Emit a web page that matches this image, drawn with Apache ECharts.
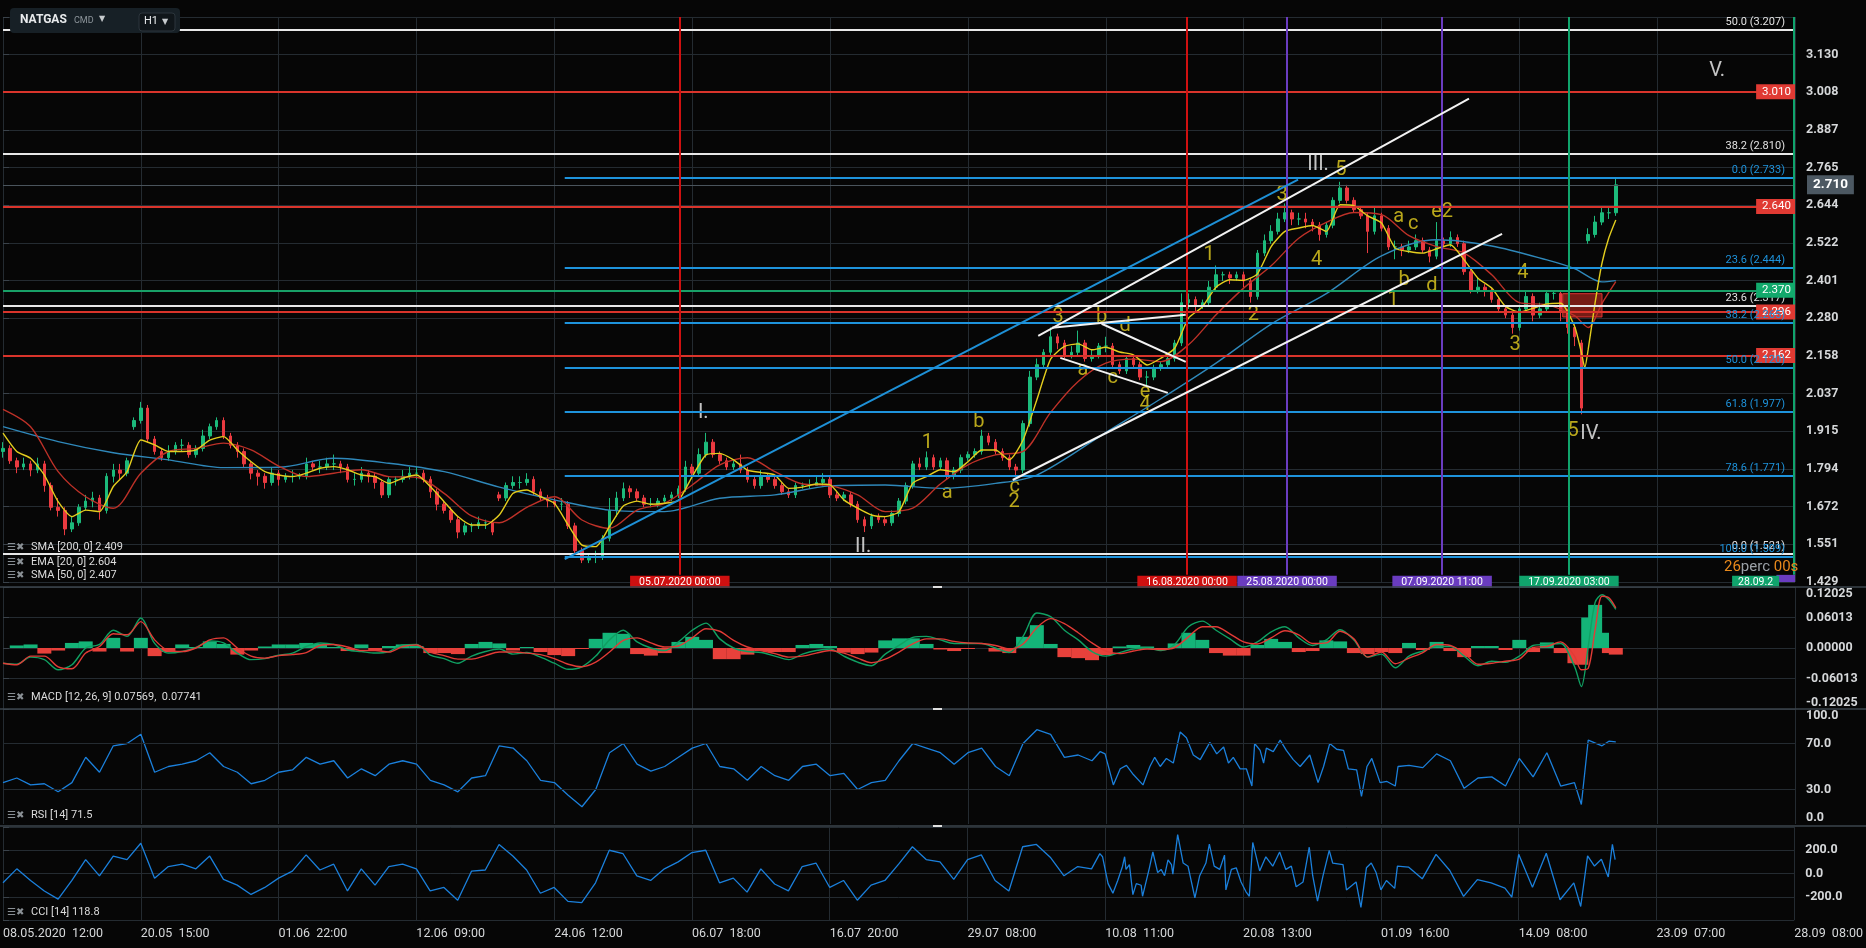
<!DOCTYPE html>
<html><head><meta charset="utf-8">
<script src="https://cdn.jsdelivr.net/npm/echarts@6/dist/echarts.min.js"></script>
<style>html,body{margin:0;padding:0;background:#060606;overflow:hidden}#c{width:1866px;height:948px}</style>
</head><body><div id="c"></div>
<script>
// ---------- tick labels ----------
const xLabels = ['08.05.2020  12:00','20.05  15:00','01.06  22:00','12.06  09:00','24.06  12:00','06.07  18:00','16.07  20:00','29.07  08:00','10.08  11:00','20.08  13:00','01.09  16:00','14.09  08:00','23.09  07:00','28.09  08:00'];
const yLabels = ['1.429','1.551','1.672','1.794','1.915','2.037','2.158','2.280','2.401','2.522','2.644','2.765','2.887','3.008','3.130'];
const macdLabels = ['-0.12025','-0.06013','0.00000','0.06013','0.12025'];
const rsiLabels = [0,30,70,100];
const cciLabels = [-200,0,200];
const Y_MIN = 1.429, Y_STEP = 0.1215;
const BARS_PER_LABEL = 20, X_MAX = 260;

// ---------- price candles [open, close, low, high] ----------
const candles = [
[1.85,1.86,1.83,1.88],[1.86,1.82,1.81,1.87],[1.82,1.80,1.78,1.83],[1.80,1.81,1.79,1.83],[1.81,1.79,1.77,1.82],
[1.79,1.81,1.78,1.83],[1.81,1.74,1.72,1.82],[1.74,1.67,1.66,1.75],[1.67,1.66,1.64,1.70],[1.66,1.60,1.58,1.67],
[1.60,1.62,1.59,1.64],[1.62,1.67,1.61,1.68],[1.67,1.69,1.66,1.71],[1.69,1.70,1.67,1.72],[1.70,1.66,1.63,1.71],
[1.66,1.77,1.65,1.78],[1.77,1.79,1.75,1.81],[1.79,1.78,1.76,1.81],[1.78,1.82,1.77,1.83],[1.93,1.95,1.92,1.96],
[1.95,1.99,1.94,2.01],[1.99,1.89,1.88,2.00],[1.89,1.85,1.84,1.90],[1.85,1.83,1.82,1.86],[1.83,1.85,1.82,1.87],
[1.85,1.87,1.84,1.88],[1.87,1.87,1.85,1.89],[1.87,1.84,1.83,1.88],[1.84,1.86,1.83,1.87],[1.86,1.90,1.85,1.92],
[1.90,1.93,1.89,1.94],[1.93,1.95,1.92,1.96],[1.95,1.90,1.89,1.96],[1.90,1.87,1.86,1.91],[1.87,1.85,1.83,1.88],
[1.85,1.81,1.80,1.86],[1.81,1.78,1.76,1.82],[1.78,1.77,1.74,1.79],[1.77,1.75,1.73,1.78],[1.75,1.78,1.74,1.80],
[1.78,1.76,1.74,1.79],[1.76,1.77,1.75,1.78],[1.77,1.77,1.75,1.79],[1.77,1.77,1.76,1.78],[1.77,1.81,1.76,1.83],
[1.81,1.80,1.79,1.82],[1.80,1.80,1.78,1.82],[1.80,1.81,1.79,1.83],[1.81,1.81,1.79,1.84],[1.81,1.80,1.78,1.82],
[1.80,1.76,1.75,1.81],[1.76,1.76,1.74,1.78],[1.76,1.78,1.75,1.80],[1.78,1.77,1.75,1.79],[1.77,1.75,1.73,1.78],
[1.75,1.71,1.70,1.76],[1.71,1.76,1.70,1.77],[1.76,1.76,1.74,1.77],[1.76,1.77,1.75,1.79],[1.77,1.78,1.76,1.80],
[1.78,1.78,1.76,1.80],[1.78,1.76,1.75,1.79],[1.76,1.72,1.70,1.77],[1.72,1.68,1.66,1.73],[1.68,1.66,1.65,1.69],
[1.66,1.63,1.62,1.67],[1.63,1.59,1.57,1.64],[1.59,1.61,1.58,1.62],[1.61,1.61,1.59,1.62],[1.61,1.62,1.60,1.64],
[1.62,1.62,1.60,1.63],[1.62,1.59,1.58,1.63],[1.71,1.70,1.69,1.72],[1.70,1.74,1.69,1.75],[1.74,1.75,1.73,1.77],
[1.75,1.75,1.73,1.77],[1.75,1.76,1.74,1.78],[1.76,1.72,1.71,1.77],[1.72,1.70,1.69,1.73],[1.70,1.69,1.67,1.71],
[1.69,1.68,1.67,1.70],[1.68,1.68,1.66,1.70],[1.68,1.61,1.60,1.69],[1.61,1.53,1.52,1.62],[1.53,1.50,1.49,1.54],
[1.50,1.51,1.49,1.52],[1.51,1.51,1.49,1.53],[1.51,1.57,1.50,1.58],[1.57,1.66,1.56,1.70],[1.66,1.70,1.64,1.72],
[1.70,1.73,1.69,1.75],[1.73,1.72,1.70,1.74],[1.72,1.70,1.69,1.73],[1.70,1.68,1.67,1.71],[1.68,1.68,1.67,1.70],
[1.68,1.69,1.67,1.70],[1.69,1.70,1.68,1.71],[1.70,1.71,1.69,1.72],[1.71,1.73,1.70,1.74],[1.73,1.80,1.72,1.82],
[1.80,1.78,1.77,1.81],[1.78,1.84,1.77,1.86],[1.84,1.88,1.83,1.91],[1.88,1.84,1.83,1.89],[1.84,1.82,1.81,1.85],
[1.82,1.80,1.79,1.83],[1.80,1.81,1.79,1.82],[1.81,1.79,1.78,1.84],[1.79,1.76,1.75,1.80],[1.76,1.74,1.73,1.77],
[1.74,1.77,1.73,1.79],[1.77,1.76,1.75,1.78],[1.76,1.74,1.73,1.77],[1.74,1.72,1.71,1.75],[1.72,1.71,1.70,1.73],
[1.71,1.74,1.70,1.75],[1.74,1.74,1.73,1.75],[1.74,1.74,1.73,1.76],[1.74,1.75,1.74,1.77],[1.75,1.76,1.74,1.78],
[1.76,1.71,1.70,1.77],[1.71,1.70,1.69,1.72],[1.70,1.71,1.69,1.72],[1.71,1.68,1.67,1.72],[1.68,1.63,1.62,1.69],
[1.63,1.61,1.59,1.64],[1.61,1.64,1.60,1.65],[1.64,1.63,1.62,1.65],[1.63,1.62,1.61,1.64],[1.62,1.65,1.61,1.66],
[1.65,1.69,1.64,1.70],[1.69,1.74,1.68,1.75],[1.74,1.81,1.73,1.82],[1.81,1.80,1.79,1.83],[1.80,1.83,1.79,1.85],
[1.83,1.80,1.79,1.84],[1.80,1.82,1.79,1.83],[1.82,1.77,1.76,1.83],[1.77,1.79,1.76,1.80],[1.79,1.83,1.78,1.84],
[1.83,1.84,1.82,1.85],[1.84,1.85,1.83,1.86],[1.85,1.90,1.84,1.92],[1.90,1.88,1.87,1.91],[1.88,1.85,1.84,1.89],
[1.85,1.83,1.82,1.86],[1.83,1.80,1.79,1.84],[1.80,1.79,1.77,1.81],[1.79,1.94,1.78,1.95],[1.94,2.09,1.93,2.11],
[2.09,2.13,2.08,2.15],[2.13,2.17,2.12,2.18],[2.17,2.22,2.16,2.25],[2.22,2.20,2.18,2.23],[2.20,2.16,2.15,2.21],
[2.16,2.17,2.15,2.19],[2.17,2.20,2.16,2.24],[2.20,2.15,2.14,2.21],[2.15,2.16,2.14,2.18],[2.16,2.19,2.15,2.20],
[2.19,2.19,2.17,2.22],[2.19,2.13,2.12,2.20],[2.13,2.11,2.10,2.14],[2.11,2.15,2.10,2.16],[2.15,2.13,2.12,2.16],
[2.13,2.09,2.08,2.14],[2.09,2.09,2.06,2.11],[2.09,2.12,2.08,2.13],[2.12,2.13,2.11,2.14],[2.13,2.15,2.12,2.16],
[2.15,2.20,2.14,2.21],[2.20,2.33,2.19,2.36],[2.33,2.34,2.31,2.36],[2.34,2.32,2.30,2.35],[2.32,2.33,2.31,2.34],
[2.33,2.38,2.32,2.40],[2.38,2.42,2.37,2.45],[2.42,2.42,2.40,2.43],[2.42,2.41,2.39,2.43],[2.41,2.42,2.40,2.43],
[2.42,2.40,2.38,2.43],[2.40,2.35,2.33,2.41],[2.35,2.49,2.34,2.50],[2.49,2.53,2.48,2.55],[2.53,2.56,2.52,2.58],
[2.56,2.60,2.55,2.62],[2.60,2.62,2.59,2.65],[2.62,2.60,2.58,2.63],[2.60,2.60,2.58,2.62],[2.60,2.59,2.57,2.62],
[2.59,2.58,2.56,2.60],[2.58,2.55,2.53,2.59],[2.55,2.58,2.54,2.59],[2.58,2.66,2.57,2.67],[2.66,2.70,2.65,2.72],
[2.70,2.66,2.65,2.71],[2.66,2.63,2.62,2.67],[2.63,2.61,2.60,2.64],[2.61,2.56,2.49,2.62],[2.56,2.61,2.55,2.64],
[2.61,2.57,2.56,2.62],[2.57,2.51,2.50,2.58],[2.51,2.51,2.47,2.53],[2.51,2.50,2.48,2.52],[2.50,2.51,2.49,2.53],
[2.51,2.53,2.50,2.55],[2.53,2.50,2.49,2.54],[2.50,2.48,2.46,2.51],[2.48,2.53,2.47,2.59],[2.53,2.52,2.51,2.54],
[2.52,2.54,2.51,2.56],[2.54,2.52,2.51,2.55],[2.52,2.43,2.42,2.53],[2.43,2.37,2.36,2.44],[2.37,2.38,2.36,2.41],
[2.38,2.37,2.35,2.39],[2.37,2.34,2.33,2.38],[2.34,2.31,2.30,2.35],[2.31,2.29,2.28,2.32],[2.29,2.25,2.23,2.30],
[2.25,2.31,2.24,2.32],[2.31,2.35,2.30,2.37],[2.35,2.29,2.27,2.36],[2.29,2.31,2.28,2.33],[2.31,2.36,2.30,2.37],
[2.36,2.36,2.34,2.37],[2.36,2.30,2.27,2.37],[2.30,2.25,2.23,2.31],[2.25,2.22,2.19,2.26],[2.20,1.99,1.97,2.21],
[2.53,2.55,2.52,2.57],[2.55,2.59,2.54,2.61],[2.59,2.62,2.58,2.64],[2.62,2.62,2.60,2.64],[2.62,2.71,2.61,2.73]
];

// ---------- moving averages [barIndex, value] ----------
const ema20 = [[0,1.909],[2,1.850],[4,1.828],[6,1.774],[8,1.688],[10,1.640],[12,1.661],[14,1.656],[16,1.737],[18,1.785],[20,1.887],[22,1.871],[24,1.850],[26,1.850],[28,1.855],[30,1.887],[32,1.898],[34,1.855],[36,1.817],[38,1.785],[40,1.774],[42,1.769],[44,1.780],[46,1.796],[48,1.801],[50,1.791],[52,1.774],[54,1.769],[56,1.747],[58,1.764],[60,1.774],[62,1.737],[64,1.688],[66,1.640],[68,1.613],[70,1.613],[72,1.645],[74,1.715],[76,1.726],[78,1.704],[80,1.683],[82,1.613],[84,1.548],[86,1.543],[88,1.608],[90,1.674],[92,1.690],[94,1.680],[96,1.683],[98,1.692],[100,1.769],[102,1.839],[104,1.844],[106,1.823],[108,1.790],[110,1.782],[112,1.774],[114,1.731],[116,1.735],[118,1.745],[120,1.742],[122,1.694],[124,1.667],[126,1.645],[128,1.640],[130,1.656],[132,1.748],[134,1.769],[136,1.791],[138,1.785],[140,1.817],[142,1.855],[144,1.855],[146,1.823],[148,1.887],[150,2.017],[152,2.148],[154,2.189],[156,2.197],[158,2.178],[160,2.186],[162,2.171],[164,2.162],[166,2.129],[168,2.151],[170,2.183],[172,2.280],[174,2.316],[176,2.380],[178,2.404],[180,2.402],[182,2.423],[184,2.511],[186,2.560],[188,2.571],[190,2.579],[192,2.560],[194,2.646],[196,2.643],[198,2.610],[200,2.587],[202,2.506],[204,2.495],[206,2.490],[208,2.504],[210,2.517],[212,2.468],[214,2.409],[216,2.377],[218,2.318],[220,2.300],[222,2.312],[224,2.326],[226,2.328],[228,2.255],[229,2.170],[229.5,2.120],[230,2.180],[231,2.330],[232,2.458],[233,2.540],[234,2.597]];
const sma50 = [[0,1.986],[4,1.930],[8,1.785],[12,1.704],[16,1.667],[20,1.780],[24,1.850],[28,1.860],[32,1.877],[36,1.855],[40,1.803],[44,1.769],[48,1.780],[52,1.791],[56,1.769],[60,1.767],[64,1.715],[68,1.642],[72,1.620],[76,1.670],[80,1.704],[84,1.629],[88,1.602],[92,1.661],[96,1.683],[100,1.742],[104,1.807],[108,1.830],[112,1.785],[116,1.745],[120,1.740],[124,1.710],[128,1.656],[132,1.667],[136,1.745],[140,1.807],[144,1.839],[148,1.850],[152,1.976],[156,2.076],[160,2.135],[164,2.148],[168,2.140],[172,2.194],[176,2.291],[180,2.377],[184,2.449],[188,2.538],[192,2.589],[196,2.621],[200,2.614],[204,2.546],[208,2.511],[212,2.490],[216,2.420],[220,2.330],[224,2.323],[228,2.288],[230,2.250],[232,2.328],[234,2.398]];
const sma200 = [[0,1.930],[8,1.882],[16,1.846],[24,1.823],[32,1.798],[40,1.799],[48,1.828],[56,1.812],[64,1.785],[72,1.735],[80,1.694],[88,1.661],[96,1.656],[104,1.699],[112,1.710],[120,1.739],[128,1.742],[136,1.731],[144,1.747],[150,1.774],[160,1.911],[168,2.020],[176,2.135],[184,2.261],[192,2.359],[200,2.481],[208,2.533],[216,2.513],[224,2.468],[228,2.440],[232,2.397],[234,2.401]];

// ---------- MACD [barIndex, value] ----------
const macdLine = [[0,-0.030],[2,-0.032],[4,-0.018],[6,-0.023],[8,-0.043],[10,-0.033],[12,0.000],[14,0.007],[16,0.035],[18,0.023],[20,0.059],[22,0.009],[24,-0.010],[26,-0.007],[28,0.001],[30,0.014],[32,0.010],[34,-0.010],[36,-0.023],[38,-0.021],[40,-0.014],[42,-0.010],[44,0.003],[46,0.010],[48,0.007],[50,-0.004],[52,-0.007],[54,-0.010],[56,-0.007],[58,0.006],[60,0.007],[62,-0.014],[64,-0.021],[66,-0.030],[68,-0.016],[70,-0.007],[72,-0.002],[74,-0.012],[76,-0.009],[78,-0.018],[80,-0.030],[82,-0.042],[84,-0.037],[86,-0.016],[88,0.016],[90,0.035],[92,0.012],[94,0.000],[96,-0.005],[98,0.012],[100,0.035],[102,0.049],[104,0.018],[106,0.000],[108,-0.007],[110,-0.009],[112,-0.016],[114,-0.023],[116,-0.012],[118,-0.005],[120,-0.002],[122,-0.016],[124,-0.028],[126,-0.035],[128,-0.012],[130,0.005],[132,0.021],[134,0.023],[136,0.016],[138,0.009],[140,0.009],[142,0.009],[144,0.000],[146,-0.009],[148,0.023],[150,0.069],[152,0.062],[154,0.035],[156,0.016],[158,-0.007],[160,-0.016],[162,-0.009],[164,-0.002],[166,0.000],[168,-0.005],[170,0.007],[172,0.042],[174,0.053],[176,0.035],[178,0.018],[180,0.002],[182,0.012],[184,0.032],[186,0.042],[188,0.020],[190,0.005],[192,0.016],[194,0.036],[196,0.016],[198,-0.018],[200,-0.012],[202,-0.039],[204,-0.016],[206,-0.006],[208,0.003],[210,0.003],[212,-0.016],[214,-0.035],[216,-0.026],[218,-0.028],[220,-0.016],[222,0.005],[224,0.007],[226,0.009],[228,-0.036],[229,-0.076],[230,0.003],[231,0.090],[232,0.105],[233,0.095],[234,0.076]];
const signalLine = [[0,-0.030],[2,-0.033],[4,-0.016],[6,-0.016],[8,-0.037],[10,-0.041],[12,-0.010],[14,0.003],[16,0.028],[18,0.026],[20,0.052],[22,0.016],[24,-0.005],[26,-0.007],[28,0.000],[30,0.016],[32,0.020],[34,0.000],[36,-0.016],[38,-0.020],[40,-0.015],[42,-0.013],[44,-0.009],[46,0.005],[48,0.007],[50,0.002],[52,-0.005],[54,-0.005],[56,-0.008],[58,0.003],[60,0.006],[62,-0.008],[64,-0.015],[66,-0.022],[68,-0.022],[70,-0.015],[72,-0.008],[74,-0.008],[76,-0.010],[78,-0.013],[80,-0.021],[82,-0.032],[84,-0.037],[86,-0.028],[88,-0.008],[90,0.015],[92,0.020],[94,0.010],[96,0.002],[98,0.004],[100,0.020],[102,0.038],[104,0.033],[106,0.015],[108,0.002],[110,-0.005],[112,-0.011],[114,-0.018],[116,-0.016],[118,-0.010],[120,-0.005],[122,-0.010],[124,-0.020],[126,-0.029],[128,-0.022],[130,-0.008],[132,0.008],[134,0.018],[136,0.018],[138,0.013],[140,0.010],[142,0.009],[144,0.005],[146,-0.002],[148,0.008],[150,0.040],[152,0.058],[154,0.048],[156,0.030],[158,0.010],[160,-0.006],[162,-0.011],[164,-0.006],[166,-0.002],[168,-0.003],[170,0.001],[172,0.022],[174,0.042],[176,0.042],[178,0.028],[180,0.012],[182,0.008],[184,0.020],[186,0.034],[188,0.026],[190,0.009],[192,0.010],[194,0.033],[196,0.018],[198,-0.018],[200,-0.008],[202,-0.031],[204,-0.020],[206,-0.009],[208,0.007],[210,0.005],[212,-0.010],[214,-0.032],[216,-0.030],[218,-0.026],[220,-0.022],[222,0.001],[224,0.003],[226,0.012],[228,-0.016],[229,-0.043],[230,-0.040],[231,0.036],[232,0.102],[233,0.099],[234,0.079]];
const macdHist = [[0,0.000],[2,0.005],[4,0.007],[6,-0.011],[8,-0.005],[10,0.010],[12,0.013],[14,-0.007],[16,0.020],[18,-0.007],[20,0.020],[22,-0.016],[24,-0.008],[26,0.007],[28,0.002],[30,0.013],[32,0.008],[34,-0.013],[36,-0.005],[38,0.003],[40,0.007],[42,0.007],[44,0.010],[46,0.008],[48,0.002],[50,-0.006],[52,0.007],[54,-0.005],[56,0.004],[58,0.007],[60,0.004],[62,-0.010],[64,-0.010],[66,-0.012],[68,0.008],[70,0.012],[72,0.009],[74,-0.005],[76,0.002],[78,-0.008],[80,-0.014],[82,-0.016],[84,-0.002],[86,0.018],[88,0.030],[90,0.028],[92,-0.012],[94,-0.015],[96,-0.010],[98,0.012],[100,0.022],[102,0.016],[104,-0.022],[106,-0.022],[108,-0.013],[110,-0.006],[112,-0.008],[114,-0.008],[116,0.006],[118,0.008],[120,0.004],[122,-0.009],[124,-0.012],[126,-0.009],[128,0.015],[130,0.019],[132,0.019],[134,0.008],[136,-0.003],[138,-0.006],[140,-0.002],[142,0.000],[144,-0.007],[146,-0.010],[148,0.022],[150,0.045],[152,0.008],[154,-0.018],[156,-0.020],[158,-0.024],[160,-0.014],[162,0.003],[164,0.006],[166,0.003],[168,-0.003],[170,0.009],[172,0.030],[174,0.016],[176,-0.010],[178,-0.015],[180,-0.015],[182,0.006],[184,0.018],[186,0.012],[188,-0.008],[190,-0.006],[192,0.015],[194,0.013],[196,-0.010],[198,-0.012],[200,-0.008],[202,-0.010],[204,0.010],[206,-0.004],[208,0.012],[210,-0.006],[212,-0.018],[214,0.004],[216,0.004],[218,-0.004],[220,0.016],[222,-0.008],[224,0.011],[226,-0.010],[228,-0.030],[229,-0.033],[230,0.060],[231,0.085],[232,0.030],[233,-0.010],[234,-0.013]];

// ---------- RSI / CCI [barIndex, value] ----------
const rsi14 = [[0,36],[2,40],[4,34],[6,35],[8,28],[10,36],[12,58],[14,45],[16,68],[18,70],[20,78],[22,45],[24,50],[26,52],[28,55],[30,62],[32,50],[34,45],[36,35],[38,38],[40,45],[42,47],[44,58],[46,52],[48,55],[50,40],[52,48],[54,42],[56,52],[58,55],[60,52],[62,38],[64,34],[66,28],[68,40],[70,42],[72,68],[74,66],[76,55],[78,38],[80,36],[82,25],[84,15],[86,30],[88,62],[90,70],[92,52],[94,46],[96,50],[98,58],[100,66],[102,70],[104,50],[106,48],[108,38],[110,50],[112,42],[114,38],[116,50],[118,52],[120,42],[122,44],[124,30],[126,36],[128,38],[130,55],[132,70],[134,66],[136,62],[138,52],[140,62],[142,66],[144,50],[146,42],[148,70],[150,82],[152,78],[154,58],[156,60],[158,55],
[159.2,63],[159.9,61],[161.1,34],[162.1,48],[163,51],[164,43],[165.4,34],[166.4,50],[167.1,58],[167.9,50],[168.8,57],[169.8,53],[170.8,80],[171.7,75],[172.7,60],[173.7,56],[175.1,71],[176.1,61],[177.1,67],[177.8,53],[178.5,58],[179.5,48],[180.4,48],[181.2,33],[181.6,70],[182.4,64],[182.9,53],[183.3,66],[184.3,63],[185.3,73],[186.2,64],[187.2,56],[188.2,50],[189.6,60],[190.8,36],[191.6,50],[192.5,70],[193.5,65],[194.5,64],[195.2,48],[196.4,47],[197.1,24],[197.9,50],[198.6,57],[199.8,36],[200.8,37],[202,33],[202.4,50],
[204,51],[206,49],[208,61],[210,55],[212,31],[214,40],[216,41],[218,33],[220,57],[222,41],[224,62],[226,33],[228,36],[229,17],[230,73],[232,68],[233,72],[234,71.5]];
const cci14 = [[0,-80],[2,40],[4,-60],[6,-150],[8,-220],[10,-60],[12,120],[14,-20],[16,150],[18,120],[20,260],[22,-40],[24,60],[26,80],[28,40],[30,150],[32,-50],[34,-100],[36,-180],[38,-120],[40,-40],[42,20],[44,160],[46,30],[48,80],[50,-150],[52,40],[54,-100],[56,60],[58,80],[60,40],[62,-150],[64,-120],[66,-230],[68,20],[70,30],[72,250],[74,150],[76,30],[78,-170],[80,-120],[82,-240],[84,-250],[86,-80],[88,200],[90,170],[92,-20],[94,-60],[96,40],[98,100],[100,180],[102,200],[104,-80],[106,-40],[108,-160],[110,40],[112,-90],[114,-150],[116,60],[118,90],[120,-120],[122,-60],[124,-230],[126,-100],[128,-60],[130,80],[132,230],[134,120],[136,100],[138,-50],[140,120],[142,160],[144,-60],[146,-150],[148,230],[150,250],[152,140],[154,-20],[156,60],[158,40],
[159.2,171],[159.6,144],[160.4,-87],[161.1,-169],[161.8,-60],[162.5,63],[162.8,144],[163,35],[163.5,76],[164,-182],[164.5,-87],[165.2,-101],[165.4,-196],[166.4,49],[166.9,185],[167.6,8],[168.1,35],[168.6,-19],[169.1,117],[169.6,76],[169.8,-5],[170.5,335],[171.3,90],[172,63],[173,-210],[173.7,-19],[174.6,90],[175.1,253],[175.8,63],[176.6,35],[177.3,158],[177.5,-141],[178.3,35],[179,49],[179.7,-73],[180.4,-155],[180.9,-196],[181.4,267],[182.4,22],[183.3,144],[184.3,63],[185.3,185],[186.2,35],[187,63],[187.7,-114],[188.7,-73],[189.6,226],[190.1,-19],[190.8,-237],[191.6,-19],[192.5,199],[193,90],[194.5,76],[195,-141],[196.4,-73],[197.1,-291],[197.9,49],[198.6,90],[199.3,8],[200,-141],[200.8,-60],[202,-128],[202.4,63],
[204,55],[206,-46],[208,165],[210,26],[212,-197],[214,-52],[216,-81],[218,-125],[219,-203],[220,165],[222,-119],[224,174],[226,-226],[228,-81],[229,-284],[230,151],[231,64],[232,122],[233,-30],[233.6,250],[234,119]];

// ---------- drawing annotations (price levels, bar indexes) ----------
const whiteFib = [[3.207,'50.0 (3.207)'],[2.810,'38.2 (2.810)'],[2.317,'23.6 (2.317)'],[1.521,'0.0 (1.521)']];
const blueFib = [[2.733,'0.0 (2.733)'],[2.444,'23.6 (2.444)'],[2.265,'38.2 (2.265)'],[2.120,'50.0 (2.120)'],[1.977,'61.8 (1.977)'],[1.771,'78.6 (1.771)'],[1.509,'100.0 (1.509)']];
const blueFibStart = 81.5;
const redLevels = [3.010, 2.640, 2.296, 2.162];
const greenLevels = [2.370];
const lastPrice = 2.710;
const timeLines = [['05.07.2020 00:00',98.2,'#cf1010'],['16.08.2020 00:00',171.8,'#cf1010'],['25.08.2020 00:00',186.3,'#6a3cc0'],['07.09.2020 11:00',208.8,'#6a3cc0'],['17.09.2020 03:00',227.2,'#10a46c'],['28.09.2',259.8,'#10a46c']];
const trendLines = [[81.5,1.503,187.9,2.727,'#1e90d6'],[150.2,2.223,212.7,2.988,'#f2f2f2'],[146.5,1.758,217.5,2.552,'#f2f2f2'],[152.2,2.249,171.6,2.291,'#f2f2f2'],[159.4,2.262,171.6,2.139,'#f2f2f2'],[153.4,2.152,169.0,2.039,'#f2f2f2']];
const W = '#f2f2f2', Yc = '#e6cf20';
const waveLabels = [['I.',101.6,1.974,W],['II.',124.8,1.542,W],['1',134.1,1.878,Yc],['a',137.0,1.716,Yc],['b',141.6,1.945,Yc],['c',146.8,1.736,Yc],['2',146.7,1.687,Yc],['3',153.1,2.284,Yc],['b',159.4,2.284,Yc],['d',162.8,2.255,Yc],['a',156.7,2.113,Yc],['c',161.0,2.087,Yc],['e',165.7,2.042,Yc],['4',165.7,2.000,Yc],['1',175.0,2.485,Yc],['2',181.4,2.291,Yc],['3',185.6,2.678,Yc],['III.',190.8,2.775,W],['5',194.1,2.759,Yc],['4',190.6,2.468,Yc],['a',202.5,2.607,Yc],['c',204.6,2.585,Yc],['e2',208.8,2.623,Yc],['b',203.3,2.404,Yc],['d',207.3,2.384,Yc],['1',201.7,2.339,Yc],['4',220.5,2.426,Yc],['3',219.4,2.194,Yc],['5',227.8,1.916,Yc],['IV.',230.4,1.907,W],['V.',248.7,3.078,W]];
const zoneBox = [226.3, 2.359, 232.0, 2.284];

// ---------- chart ----------
const chart = echarts.init(document.getElementById('c'), null, {renderer:'canvas'});
const GRID = '#242b31', AXT = '#d6d8da', FONT = 'Roboto';
const Y_MAX = Y_MIN + 15 * Y_STEP;

function xAxisFor(k, showLabel){
  return {type:'value', gridIndex:k, min:0, max:X_MAX, interval:BARS_PER_LABEL,
    axisLine:{show:false}, axisTick:{show:false},
    splitLine:{show:true, lineStyle:{color:GRID, width:1}},
    axisLabel:{show:showLabel, align:'left', margin:7, color:AXT, fontSize:12.5, fontFamily:FONT,
      formatter:v => { const k2 = Math.round(v / BARS_PER_LABEL); return (Math.abs(v - k2*BARS_PER_LABEL) < 1e-6 && xLabels[k2]) ? xLabels[k2] : ''; }}};
}
const yLab = {color:AXT, fontSize:12.5, fontWeight:'bold', fontFamily:FONT, margin:11};
const yTick = {show:true, length:6, lineStyle:{color:'#3a424a'}};

const mlData = [];
whiteFib.forEach(([v,t]) => mlData.push({yAxis:v, lineStyle:{color:'#e8e8e8', width:2.2, type:'solid'},
  label:{show:true, position:'insideEndTop', formatter:t, color:'#e2e2e2', fontSize:11, fontFamily:FONT, distance:[10,2]}}));
redLevels.forEach(v => mlData.push({yAxis:v, lineStyle:{color:'#d9342b', width:2.2, type:'solid'},
  label:{show:true, position:'insideEnd', formatter:v.toFixed(3), color:'#fff', backgroundColor:'#e03a33', padding:[2,4,1,6], fontSize:11.5, fontFamily:FONT, distance:0}}));
greenLevels.forEach(v => mlData.push({yAxis:v, lineStyle:{color:'#18a067', width:2.2, type:'solid'},
  label:{show:true, position:'insideEnd', formatter:v.toFixed(3), color:'#fff', backgroundColor:'#12a96c', padding:[2,4,1,6], fontSize:11.5, fontFamily:FONT, distance:0}}));
blueFib.forEach(([v,t]) => mlData.push([
  {coord:[blueFibStart, v], lineStyle:{color:'#1e93dc', width:2.2, type:'solid'},
   label:{show:true, position:'insideEndTop', formatter:t, color:'#1e93dc', fontSize:11, fontFamily:FONT, distance:[10,2]}},
  {coord:[X_MAX, v]}]));
mlData.push({yAxis:lastPrice, lineStyle:{color:'#4a545c', width:1, type:'solid'},
  label:{show:true, position:'end', formatter:lastPrice.toFixed(3), color:'#fff', backgroundColor:'#4c5862', padding:[3,6,2,6], fontSize:13.5, fontWeight:'bold', fontFamily:FONT, distance:12}});
timeLines.forEach(([t,x,c], idx) => mlData.push([
  {coord:[x, 1.452], lineStyle:{color:c, width:2, type:'solid'},
   label:Object.assign({show:true, position:'start', formatter:t, color:'#fff', backgroundColor:c, padding:[1,9,0,9], fontSize:10.5, fontFamily:FONT, distance:1},
     idx === timeLines.length - 1 ? {offset:[-38,0], padding:[1,6,0,6]} : {})},
  {coord:[x, Y_MAX]}]));
trendLines.forEach(([x1,y1,x2,y2,c]) => mlData.push([
  {coord:[x1,y1], lineStyle:{color:c, width:2, type:'solid'}, label:{show:false}},
  {coord:[x2,y2]}]));

const option = {
  backgroundColor:'#060606',
  animation:false,
  grid:[
    {left:3, right:71, top:17, height:565},
    {left:3, right:71, top:587, height:122},
    {left:3, right:71, top:709, height:115},
    {left:3, right:71, top:827, height:93}
  ],
  xAxis:[xAxisFor(0,false), xAxisFor(1,false), xAxisFor(2,false), xAxisFor(3,true)],
  yAxis:[
    {type:'value', gridIndex:0, position:'right', min:Y_MIN, max:Y_MAX, interval:Y_STEP,
     axisLine:{show:false}, axisTick:yTick, splitLine:{lineStyle:{color:GRID}},
     axisLabel:Object.assign({}, yLab, {formatter:v => { const k = Math.round((v - Y_MIN)/Y_STEP); return yLabels[k] || ''; }})},
    {type:'value', gridIndex:1, position:'right', min:-0.12025, max:0.12025, interval:0.060125,
     axisLine:{show:false}, axisTick:yTick, splitLine:{lineStyle:{color:GRID}},
     axisLabel:Object.assign({}, yLab, {verticalAlignMaxLabel:'top', verticalAlignMinLabel:'bottom',
       formatter:v => { const k = Math.round((v + 0.12025)/0.060125); return macdLabels[k] || ''; }})},
    {type:'value', gridIndex:2, position:'right', min:0, max:100, interval:10,
     axisLine:{show:false}, axisTick:{show:false}, splitLine:{show:false},
     axisLabel:Object.assign({}, yLab, {verticalAlignMaxLabel:'top', verticalAlignMinLabel:'bottom',
       formatter:v => rsiLabels.indexOf(Math.round(v)) >= 0 ? v.toFixed(1) : ''})},
    {type:'value', gridIndex:3, position:'right', min:-400, max:400, interval:200,
     axisLine:{show:false}, axisTick:yTick, splitLine:{lineStyle:{color:GRID}},
     axisLabel:Object.assign({}, yLab, {formatter:v => cciLabels.indexOf(Math.round(v)) >= 0 ? v.toFixed(1) : ''})}
  ],
  series:[
    {type:'candlestick', name:'NATGAS', xAxisIndex:0, yAxisIndex:0, barWidth:3,
     data:candles.map((d,i) => [i, d[0], d[1], d[2], d[3]]), encode:{x:0, y:[1,2,3,4]},
     itemStyle:{color:'#1cba7b', color0:'#ea3a40', borderColor:'#1cba7b', borderColor0:'#ea3a40', borderWidth:1},
     markLine:{silent:true, symbol:['none','none'], animation:false, data:mlData},
     markArea:{silent:true, data:[
       [{coord:[zoneBox[0], zoneBox[1]], itemStyle:{color:'rgba(150,34,26,0.78)', borderColor:'#d33', borderWidth:1}}, {coord:[zoneBox[2], zoneBox[3]]}],
       [{coord:[257.3, Y_MIN], itemStyle:{color:'#6a3cc0'}}, {coord:[X_MAX, 1.452]}]
     ]}},
    {type:'line', name:'SMA200', xAxisIndex:0, yAxisIndex:0, data:sma200, showSymbol:false, smooth:0.3, lineStyle:{color:'#2f88ba', width:1.4}},
    {type:'line', name:'SMA50', xAxisIndex:0, yAxisIndex:0, data:sma50, showSymbol:false, smooth:0.3, lineStyle:{color:'#bd3128', width:1.4}},
    {type:'line', name:'EMA20', xAxisIndex:0, yAxisIndex:0, data:ema20, showSymbol:false, smooth:0.2, lineStyle:{color:'#e3cd1e', width:1.4}},
    {type:'scatter', name:'waves', xAxisIndex:0, yAxisIndex:0, symbolSize:1, itemStyle:{color:'rgba(0,0,0,0)'},
     label:{show:true, position:'inside', fontSize:20, fontFamily:FONT},
     data:waveLabels.map(w => ({value:[w[1], w[2]], label:{formatter:w[0], color:w[3]}}))},
    {type:'bar', name:'hist', xAxisIndex:1, yAxisIndex:1, barWidth:14,
     data:macdHist.map(([i,v]) => ({value:[i,v], itemStyle:{color: v >= 0 ? '#14b478' : '#e8413b'}}))},
    {type:'line', name:'MACD', xAxisIndex:1, yAxisIndex:1, data:macdLine, showSymbol:false, smooth:0.3, lineStyle:{color:'#10a062', width:1.4}},
    {type:'line', name:'Signal', xAxisIndex:1, yAxisIndex:1, data:signalLine, showSymbol:false, smooth:0.3, lineStyle:{color:'#e23b36', width:1.4}},
    {type:'line', name:'RSI', xAxisIndex:2, yAxisIndex:2, data:rsi14, showSymbol:false, lineStyle:{color:'#1b80dc', width:1.3},
     markLine:{silent:true, symbol:['none','none'], label:{show:false}, lineStyle:{color:GRID, width:1, type:'solid'}, data:[{yAxis:30},{yAxis:70}]}},
    {type:'line', name:'CCI', xAxisIndex:3, yAxisIndex:3, data:cci14, showSymbol:false, lineStyle:{color:'#1b80dc', width:1.3}}
  ],
  graphic:[
    {type:'line', shape:{x1:0,y1:587,x2:1866,y2:587}, style:{stroke:'#3b444c', lineWidth:1.5}, z:50},
    {type:'line', shape:{x1:0,y1:709,x2:1866,y2:709}, style:{stroke:'#3b444c', lineWidth:1.5}, z:50},
    {type:'line', shape:{x1:0,y1:826,x2:1866,y2:826}, style:{stroke:'#3b444c', lineWidth:1.5}, z:50},
    {type:'line', shape:{x1:933,y1:587,x2:942,y2:587}, style:{stroke:'#e0e0e0', lineWidth:2}, z:51},
    {type:'line', shape:{x1:933,y1:709,x2:942,y2:709}, style:{stroke:'#e0e0e0', lineWidth:2}, z:51},
    {type:'line', shape:{x1:933,y1:826,x2:942,y2:826}, style:{stroke:'#e0e0e0', lineWidth:2}, z:51},
    {type:'rect', shape:{x:10,y:8,width:170,height:25,r:4}, style:{fill:'#172026'}, z:60},
    {type:'text', x:20, y:14, style:{text:'NATGAS', fill:'#e8eaec', font:'bold 12px Roboto'}, z:61},
    {type:'text', x:74, y:16, style:{text:'CMD', fill:'#8d959b', font:'9px Roboto'}, z:61},
    {type:'text', x:99, y:15, style:{text:'▼', fill:'#c7cbce', font:'8px "DejaVu Sans"'}, z:61},
    {type:'rect', shape:{x:139,y:13,width:36,height:18,r:3}, style:{fill:'#10161a', stroke:'#2c353c'}, z:61},
    {type:'text', x:144, y:16, style:{text:'H1', fill:'#e8eaec', font:'11px Roboto'}, z:62},
    {type:'text', x:162, y:18, style:{text:'▼', fill:'#c7cbce', font:'8px "DejaVu Sans"'}, z:62},
    {type:'text', x:7, y:542, style:{text:'☰✖', fill:'#8a9095', font:'10px "DejaVu Sans"'}, z:61},
    {type:'text', x:31, y:542, style:{text:'SMA [200, 0] 2.409', fill:'#dcdcdc', font:'11px Roboto'}, z:61},
    {type:'text', x:7, y:557, style:{text:'☰✖', fill:'#8a9095', font:'10px "DejaVu Sans"'}, z:61},
    {type:'text', x:31, y:557, style:{text:'EMA [20, 0] 2.604', fill:'#dcdcdc', font:'11px Roboto'}, z:61},
    {type:'text', x:7, y:570, style:{text:'☰✖', fill:'#8a9095', font:'10px "DejaVu Sans"'}, z:61},
    {type:'text', x:31, y:570, style:{text:'SMA [50, 0] 2.407', fill:'#dcdcdc', font:'11px Roboto'}, z:61},
    {type:'text', x:7, y:692, style:{text:'☰✖', fill:'#8a9095', font:'10px "DejaVu Sans"'}, z:61},
    {type:'text', x:31, y:692, style:{text:'MACD [12, 26, 9] 0.07569,  0.07741', fill:'#dcdcdc', font:'11px Roboto'}, z:61},
    {type:'text', x:7, y:810, style:{text:'☰✖', fill:'#8a9095', font:'10px "DejaVu Sans"'}, z:61},
    {type:'text', x:31, y:810, style:{text:'RSI [14] 71.5', fill:'#dcdcdc', font:'11px Roboto'}, z:61},
    {type:'text', x:7, y:907, style:{text:'☰✖', fill:'#8a9095', font:'10px "DejaVu Sans"'}, z:61},
    {type:'text', x:31, y:907, style:{text:'CCI [14] 118.8', fill:'#dcdcdc', font:'11px Roboto'}, z:61},
    {type:'text', x:1724, y:560, z:61, style:{text:'{o|26}{g|perc }{o|00s}', font:'15px Roboto',
      rich:{o:{fill:'#e8891c', font:'15px Roboto'}, g:{fill:'#9aa0a6', font:'15px Roboto'}}}}
  ]
};
chart.setOption(option);
</script>
</body></html>
